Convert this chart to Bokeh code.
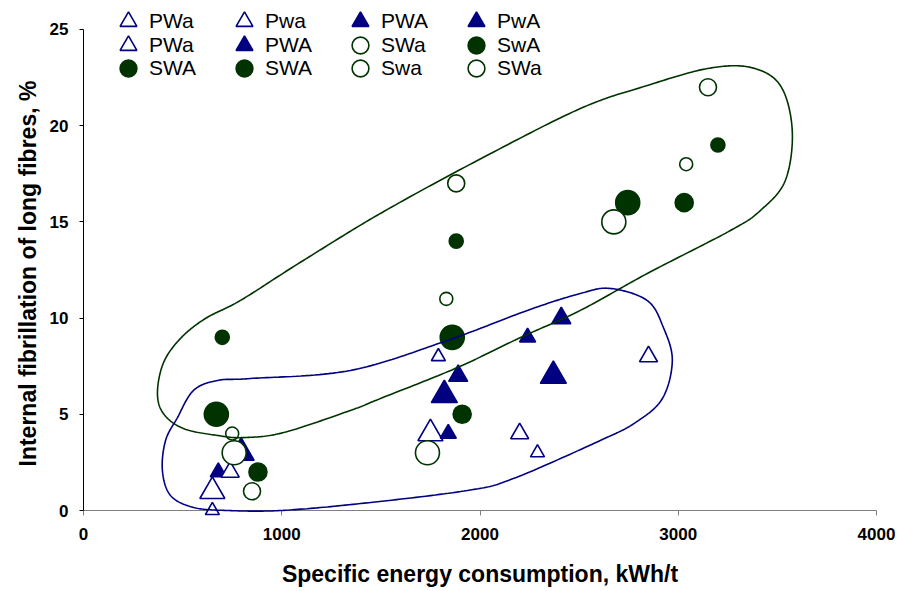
import numpy as np
from bokeh.plotting import figure
from bokeh.models import Legend, LegendItem, FixedTicker, Range1d, Title
from bokeh.embed import file_html
from bokeh.resources import INLINE

# ---------------- data ----------------
# Open blue triangles
pwa_l_x = [650, 1750]
pwa_l_y = [1, 4]
pwa_s_x = [650, 1790, 2290]
pwa_s_y = [0, 8, 3]
pwa_m_x = [740, 2200, 2850]
pwa_m_y = [2, 4, 8]
# Filled blue triangles
pwA_l_x = [795, 1820, 2370]
pwA_l_y = [3, 6, 7]
pwA_s_x = [680, 1840, 2240]
pwA_s_y = [2, 4, 9]
pwA_m_x = [1890, 2410]
pwA_m_y = [7, 10]
# Green circles
swa_m_x = [850, 1880, 3150]
swa_m_y = [1, 17, 22]
swA_s_x = [700, 1880, 3200]
swA_s_y = [9, 14, 19]
swA_l_x = [670, 1860, 2745]
swA_l_y = [5, 9, 16]
swA_m_x = [880, 1910, 3030]
swA_m_y = [2, 5, 16]
swa_s_x = [750, 1830, 3040]
swa_s_y = [4, 11, 18]
swa_l_x = [760, 1735, 2675]
swa_l_y = [3, 3, 15]

labels = ["PWa", "Pwa", "PWA", "PwA", "PWa", "PWA", "SWa", "SwA", "SWA", "SWA", "Swa", "SWa"]

x_ticks = [0, 1000, 2000, 3000, 4000]
y_ticks = [0, 5, 10, 15, 20, 25]

# hand-drawn enclosing outlines (control points, data units)
green_outline_x = [373, 404, 489, 615, 792, 1094, 1498, 1987, 2506, 2844, 3147, 3364, 3515,
                   3575, 3540, 3414, 3263, 2844, 2506, 2204, 1886, 1498, 1346, 1009, 807,
                   676, 504, 403]
green_outline_y = [6.13, 7.69, 8.94, 9.98, 10.92, 12.90, 15.44, 18.19, 20.89, 22.09, 22.97,
                   23.03, 22.09, 19.75, 17.15, 15.59, 14.55, 12.32, 10.40, 8.99, 7.43,
                   5.82, 5.20, 4.05, 3.79, 3.90, 4.26, 5.04]
blue_outline_x = [398, 414, 474, 555, 676, 842, 1346, 1836, 2239, 2506, 2658, 2844, 2925,
                  2970, 2920, 2784, 2607, 2168, 1936, 1397, 993, 726, 555, 439]
blue_outline_y = [2.08, 3.64, 4.83, 6.24, 6.76, 6.86, 7.28, 8.84, 10.40, 11.28, 11.54, 10.91,
                  9.51, 7.80, 5.82, 4.57, 3.64, 1.66, 1.04, 0.36, 0.0, 0.0, 0.16, 0.78]


def closed_spline(xs, ys, n=24):
    pts = np.column_stack([xs, ys]).astype(float)
    m = len(pts)
    out = []
    t = np.linspace(0, 1, n, endpoint=False)[:, None]
    for i in range(m):
        p0, p1, p2, p3 = pts[(i - 1) % m], pts[i], pts[(i + 1) % m], pts[(i + 2) % m]
        seg = 0.5 * ((2 * p1) + (-p0 + p2) * t + (2 * p0 - 5 * p1 + 4 * p2 - p3) * t ** 2
                     + (-p0 + 3 * p1 - 3 * p2 + p3) * t ** 3)
        out.append(seg)
    out = np.vstack(out)
    out = np.vstack([out, out[:1]])
    return out[:, 0], out[:, 1]


BLUE = "#000080"
GREEN = "#003300"
FONT = "Liberation Sans"

# frame extends above 25 so the legend (which overlaps the top of the plot) is not clipped;
# the axis itself is bounded to 0..25
p = figure(width=900, height=591, output_backend="svg", toolbar_location=None,
           x_range=Range1d(0, 4000), y_range=Range1d(0, 26.507),
           min_border_left=83, min_border_right=24, min_border_top=0, min_border_bottom=81)
p.outline_line_color = None
p.xgrid.grid_line_color = None
p.ygrid.grid_line_color = None
p.background_fill_color = "white"
p.border_fill_color = "white"

series = [
    (pwa_l_x, pwa_l_y, "triangle", 25, "white", BLUE),
    (pwa_s_x, pwa_s_y, "triangle", 14, "white", BLUE),
    (pwA_m_x, pwA_m_y, "triangle", 19, BLUE, BLUE),
    (pwA_s_x, pwA_s_y, "triangle", 16, BLUE, BLUE),
    (pwa_m_x, pwa_m_y, "triangle", 18, "white", BLUE),
    (pwA_l_x, pwA_l_y, "triangle", 26, BLUE, BLUE),
    (swa_m_x, swa_m_y, "circle", 17, "white", GREEN),
    (swA_s_x, swA_s_y, "circle", 14, GREEN, GREEN),
    (swA_l_x, swA_l_y, "circle", 24, GREEN, GREEN),
    (swA_m_x, swA_m_y, "circle", 18, GREEN, GREEN),
    (swa_s_x, swa_s_y, "circle", 13, "white", GREEN),
    (swa_l_x, swa_l_y, "circle", 24, "white", GREEN),
]

renderers = []
for xs, ys, mk, sz, fc, lc in series:
    r = p.scatter(xs, ys, marker=mk, size=sz, fill_color=fc, line_color=lc, line_width=1.6)
    r.level = "overlay"
    renderers.append(r)

gx, gy = closed_spline(green_outline_x, green_outline_y)
bx, by = closed_spline(blue_outline_x, blue_outline_y)
lg = p.line(gx, gy, line_color=GREEN, line_width=1.6)
lg.level = "overlay"
lb = p.line(bx, by, line_color=BLUE, line_width=1.6)
lb.level = "overlay"

# axes
p.xaxis.ticker = FixedTicker(ticks=x_ticks)
p.yaxis.ticker = FixedTicker(ticks=y_ticks)
p.xaxis.bounds = (0, 4000)
p.yaxis.bounds = (0, 25)
for ax in (p.xaxis, p.yaxis):
    ax.minor_tick_line_color = None
    ax.major_tick_in = 0
    ax.major_label_text_font = FONT
    ax.major_label_text_font_style = "bold"
    ax.major_label_text_font_size = "17px"
    ax.major_label_text_color = "black"
p.xaxis.axis_line_color = "#808080"
p.xaxis.major_tick_line_color = "#808080"
p.xaxis.major_tick_out = 5
p.xaxis.major_label_standoff = 12
p.xaxis.axis_label = "Specific energy consumption, kWh/t"
p.xaxis.axis_label_standoff = 18
p.xaxis.axis_label_text_font = FONT
p.xaxis.axis_label_text_font_style = "bold"
p.xaxis.axis_label_text_font_size = "23px"
p.xaxis.axis_label_text_color = "black"
p.yaxis.axis_line_color = "black"
p.yaxis.major_tick_line_color = "black"
p.yaxis.major_tick_out = 4
p.yaxis.major_label_standoff = 11

# y axis title, centred on the 0..25 part of the axis
ytitle = Title(text="Internal fibrillation of long fibres, %", align="left", offset=44,
               text_font=FONT, text_font_style="bold", text_font_size="23px",
               text_color="black", standoff=12)
p.add_layout(ytitle, "left")

# legend: three rows of four entries each
row_offsets = [468, 444, 421]
for row in range(3):
    idx = range(row * 4, row * 4 + 4)
    items = [LegendItem(label=labels[i], renderers=[renderers[i]]) for i in idx]
    legend = Legend(items=items, location=(24, row_offsets[row]), orientation="horizontal",
                    glyph_width=42, glyph_height=42, label_standoff=0, spacing=0,
                    label_width=74, padding=0, margin=0, border_line_color=None,
                    background_fill_alpha=0, label_text_font=FONT,
                    label_text_font_size="21px", label_text_color="black")
    p.add_layout(legend)

open("out.html", "w").write(file_html(p, INLINE))
